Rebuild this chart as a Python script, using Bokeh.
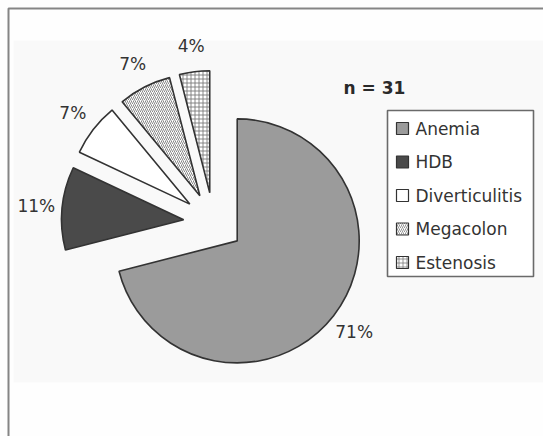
import numpy as np
from bokeh.plotting import figure
from bokeh.models import ColumnDataSource, Range1d
from bokeh.core.properties import value
from bokeh.embed import file_html
from bokeh.resources import INLINE

# Causes of presentation (n = 31), in percent
categories = ["Anemia", "HDB", "Diverticulitis", "Megacolon", "Estenosis"]
percents = [71, 11, 7, 7, 4]
sample_label = "n = 31"

# Slice styling
fills = ["#9b9b9b", "#4a4a4a", "#ffffff", "#ffffff", "#ffffff"]
hatches = [" ", " ", " ", "/", "+"]

W, H = 543, 436
p = figure(width=W, height=H, output_backend="svg", toolbar_location=None,
           x_range=Range1d(0, W), y_range=Range1d(0, H), min_border=0)
p.axis.visible = False
p.grid.visible = False
p.outline_line_color = None
p.background_fill_color = "#fefefe"
p.border_fill_color = "#fefefe"

def sy(y):
    """screen-style y (from top) to data y"""
    return H - y

# chart area panel and outer frame
p.quad(left=13, right=W, top=sy(40), bottom=sy(382), fill_color="#f9f9f9", line_color=None)
p.line(x=[8, 8, W], y=[0, sy(8), sy(8)], line_color="#858585", line_width=2)

# pie geometry
cx, cy = 213, sy(222)
radius = 122
explode = 30
label_r = 178

vals = np.array(percents, dtype=float)
frac = vals / vals.sum()
cum = np.concatenate([[0], np.cumsum(frac)])
start_deg = 90 - cum[:-1] * 360   # slices run clockwise from 12 o'clock
end_deg = 90 - cum[1:] * 360
mid = np.radians((start_deg + end_deg) / 2)

src = ColumnDataSource(dict(
    x=cx + explode * np.cos(mid),
    y=cy + explode * np.sin(mid),
    start=np.radians(end_deg),
    end=np.radians(start_deg),
    fill=fills,
    hatch=hatches,
    lx=cx + label_r * np.cos(mid),
    ly=cy + label_r * np.sin(mid),
    lbl=[f"{v}%" for v in percents],
))

p.wedge(x="x", y="y", radius=radius, start_angle="start", end_angle="end",
        direction="anticlock", source=src, fill_color="fill",
        line_color="#333333", line_width=1.6,
        hatch_pattern="hatch", hatch_color="#7a7a7a", hatch_scale=4, hatch_weight=0.9)

p.text(x="lx", y="ly", text="lbl", source=src, text_align="center",
       text_baseline="middle", text_font=value("DejaVu Sans"),
       text_font_size="17px", text_color="#333333")

# sample size
p.text(x=[374], y=[sy(87)], text=[sample_label], text_align="center",
       text_baseline="middle", text_font=value("DejaVu Sans"),
       text_font_style="bold", text_font_size="17px", text_color="#2a2a2a")

# legend box
lg_left, lg_right, lg_top, lg_bottom = 387, 533, 110, 276
p.quad(left=lg_left, right=lg_right, top=sy(lg_top), bottom=sy(lg_bottom),
       fill_color="#ffffff", line_color="#6a6a6a", line_width=1.6)

row_y = [sy(128 + 33.5 * i) for i in range(len(categories))]
leg = ColumnDataSource(dict(
    x=[402] * len(categories), y=row_y, fill=fills, hatch=hatches,
    tx=[415] * len(categories), name=categories,
))
p.rect(x="x", y="y", width=12, height=12, source=leg, fill_color="fill",
       line_color="#333333", line_width=1.2,
       hatch_pattern="hatch", hatch_color="#7a7a7a", hatch_scale=4, hatch_weight=0.8)
p.text(x="tx", y="y", text="name", source=leg, text_align="left",
       text_baseline="middle", text_font=value("DejaVu Sans"),
       text_font_size="17px", text_color="#333333")

open("out.html", "w").write(file_html(p, INLINE))
